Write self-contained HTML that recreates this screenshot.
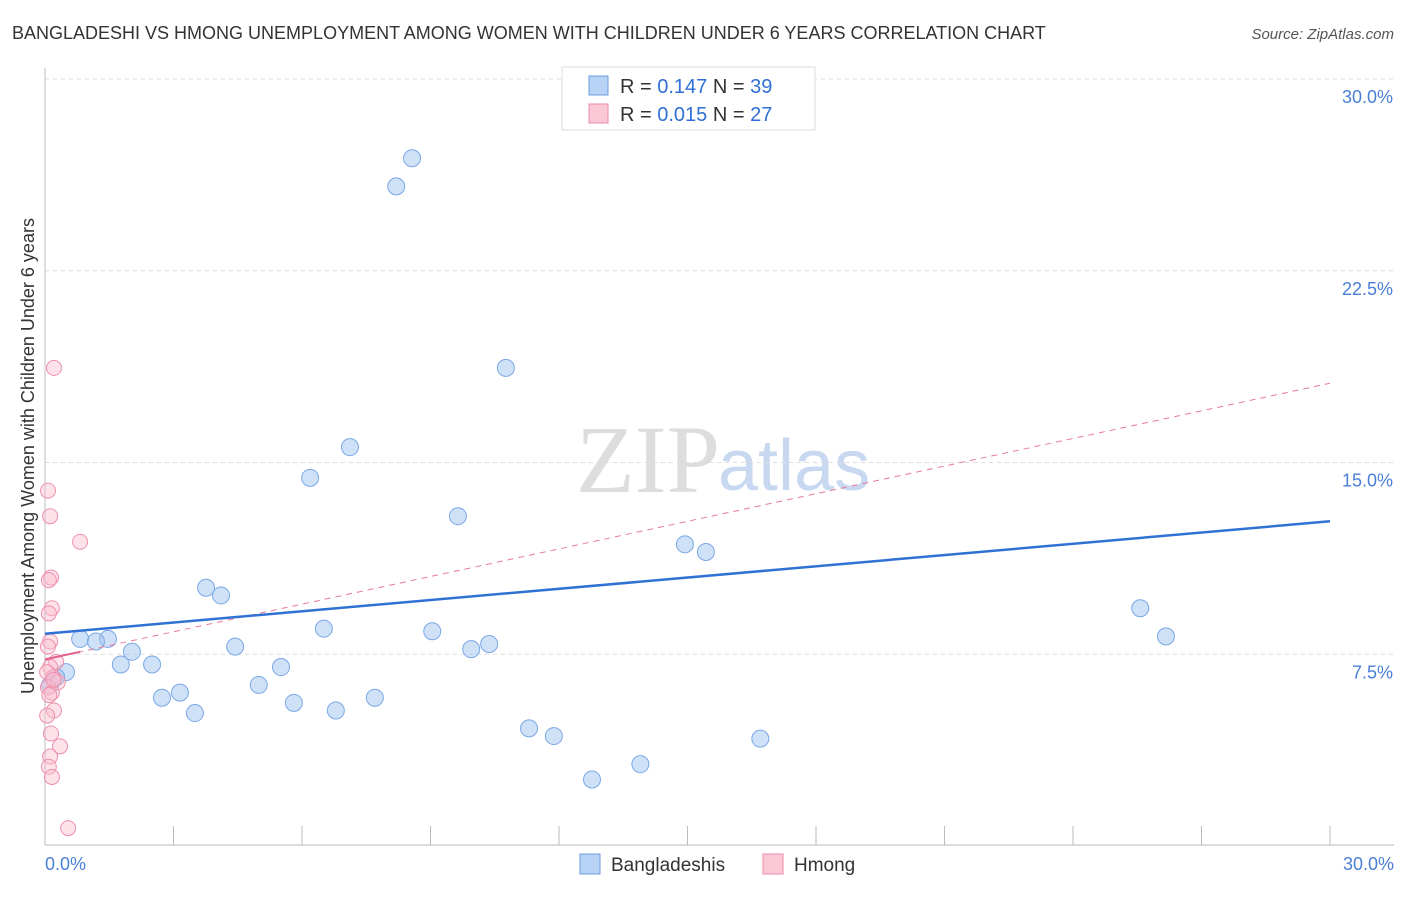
<!DOCTYPE html>
<html><head><meta charset="utf-8"><style>
body{margin:0;background:#fff;font-family:"Liberation Sans",sans-serif;}
</style></head><body>
<svg width="1406" height="892" xmlns="http://www.w3.org/2000/svg" font-family="Liberation Sans, sans-serif">
<text x="12" y="39" font-size="18" fill="#333">BANGLADESHI VS HMONG UNEMPLOYMENT AMONG WOMEN WITH CHILDREN UNDER 6 YEARS CORRELATION CHART</text>
<text x="1394" y="39" font-size="15" fill="#555" font-style="italic" text-anchor="end">Source: ZipAtlas.com</text>
<text x="720" y="492" font-size="96" fill="#ddd" text-anchor="end" font-family="Liberation Serif, serif">ZIP</text>
<text x="718" y="490" font-size="72" fill="#c8d8f0">atlas</text>
<g id="grid"></g>
<g id="axes"></g>
<g id="marks"></g>
<text transform="translate(34,456) rotate(-90)" font-size="18" fill="#333" text-anchor="middle">Unemployment Among Women with Children Under 6 years</text>
<text x="45" y="870" font-size="18" fill="#4a7fd6">0.0%</text>
<text x="1394" y="870" font-size="18" fill="#4a7fd6" text-anchor="end">30.0%</text>
<g>
<rect x="562" y="67" width="253" height="63" fill="#fff" stroke="#ddd"/>
<rect x="589" y="76" width="19" height="19" fill="#b8d3f5" stroke="#6b9ee0"/>
<rect x="589" y="104" width="19" height="19" fill="#fbc8d6" stroke="#ec8aa8"/>
<text x="620" y="93" font-size="20" fill="#333">R = <tspan fill="#2f6fd6">0.147</tspan>   N = <tspan fill="#2f6fd6">39</tspan></text>
<text x="620" y="121" font-size="20" fill="#333">R = <tspan fill="#2f6fd6">0.015</tspan>   N = <tspan fill="#2f6fd6">27</tspan></text>
</g>
<g>
<rect x="580" y="854" width="20" height="20" fill="#b8d3f5" stroke="#6b9ee0"/>
<text x="611" y="871" font-size="19" fill="#333">Bangladeshis</text>
<rect x="763" y="854" width="20" height="20" fill="#fbc8d6" stroke="#ec8aa8"/>
<text x="794" y="871" font-size="19" fill="#333">Hmong</text>
</g>
</svg>
<script>
const yTicks=[7.5,15,22.5,30];
const bangX=[8.57,8.2,10.76,7.12,6.19,9.64,14.94,15.43,3.76,4.11,25.57,26.17,6.51,9.04,0.82,1.47,1.19,10.37,4.44,9.95,2.03,1.77,2.5,5.51,0.49,0.26,4.99,3.15,2.73,7.7,5.81,3.5,6.79,11.3,11.88,16.7,13.9,12.77,0.12];
const bangY=[26.9,25.8,18.7,15.6,14.4,12.9,11.8,11.5,10.1,9.8,9.3,8.2,8.5,8.4,8.1,8.1,8.0,7.9,7.8,7.7,7.6,7.1,7.1,7.0,6.8,6.6,6.3,6.0,5.8,5.8,5.6,5.2,5.3,4.6,4.3,4.2,3.2,2.6,6.3];
const hmX=[0.21,0.07,0.12,0.82,0.14,0.09,0.16,0.09,0.12,0.07,0.26,0.12,0.19,0.3,0.07,0.16,0.21,0.05,0.14,0.35,0.12,0.09,0.16,0.54,0.05,0.2,0.1];
const hmY=[18.7,13.9,12.9,11.9,10.5,10.4,9.3,9.1,8.0,7.8,7.2,7.0,6.6,6.4,6.2,6.0,5.3,5.1,4.4,3.9,3.5,3.1,2.7,0.7,6.8,6.5,5.9];
const bangTrend=[8.3,12.7];
const hmTrend=[7.3,18.1];
const X=v=>45+v*(1285/30), Y=v=>846-v*(767/30);
const NS='http://www.w3.org/2000/svg';
function mk(t,a,p){const e=document.createElementNS(NS,t);for(const k in a)e.setAttribute(k,a[k]);document.getElementById(p).appendChild(e);return e;}
yTicks.forEach(t=>{
 const l=mk('line',{x1:45,x2:1394,y1:Y(t),y2:Y(t),stroke:'#ddd','stroke-dasharray':'4,4'},'grid');
 
 
 const tx=mk('text',{x:1393,y:Y(t)+24,'font-size':18,fill:'#4a7fd6','text-anchor':'end'},'grid');
 tx.textContent=t.toFixed(1)+'%';
 
 
});
const ax=mk('line',{x1:45,x2:45,y1:68,y2:845,stroke:'#bbb'},'axes');


const bx=mk('line',{x1:45,x2:1394,y1:845,y2:845,stroke:'#bbb'},'axes');


for(let i=1;i<=10;i++){const t=mk('line',{x1:X(i*3),x2:X(i*3),y1:826,y2:845,stroke:'#bbb'},'axes');
 
 }
bangX.forEach((x,i)=>{const c=mk('circle',{cx:X(x),cy:Y(bangY[i]),r:8.5,fill:'rgba(160,196,240,0.5)',stroke:'#7aa8e6','stroke-width':1},'marks');
 
 });
hmX.forEach((x,i)=>{const c=mk('circle',{cx:X(x),cy:Y(hmY[i]),r:7.5,fill:'rgba(250,190,208,0.45)',stroke:'#ee90ad','stroke-width':1},'marks');
 
 });
const pt=mk('line',{x1:X(0),y1:Y(hmTrend[0]),x2:X(30),y2:Y(hmTrend[1]),stroke:'#e87a9c','stroke-width':1,'stroke-dasharray':'6,5'},'marks');


const ps=mk('line',{x1:X(0),y1:Y(hmTrend[0]),x2:X(0.82),y2:Y(hmTrend[0]+(hmTrend[1]-hmTrend[0])*0.82/30),stroke:'#e0608a','stroke-width':2},'marks');


const bt=mk('line',{x1:X(0),y1:Y(bangTrend[0]),x2:X(30),y2:Y(bangTrend[1]),stroke:'#2f72d4','stroke-width':2.5},'marks');


</script>
</body></html>
